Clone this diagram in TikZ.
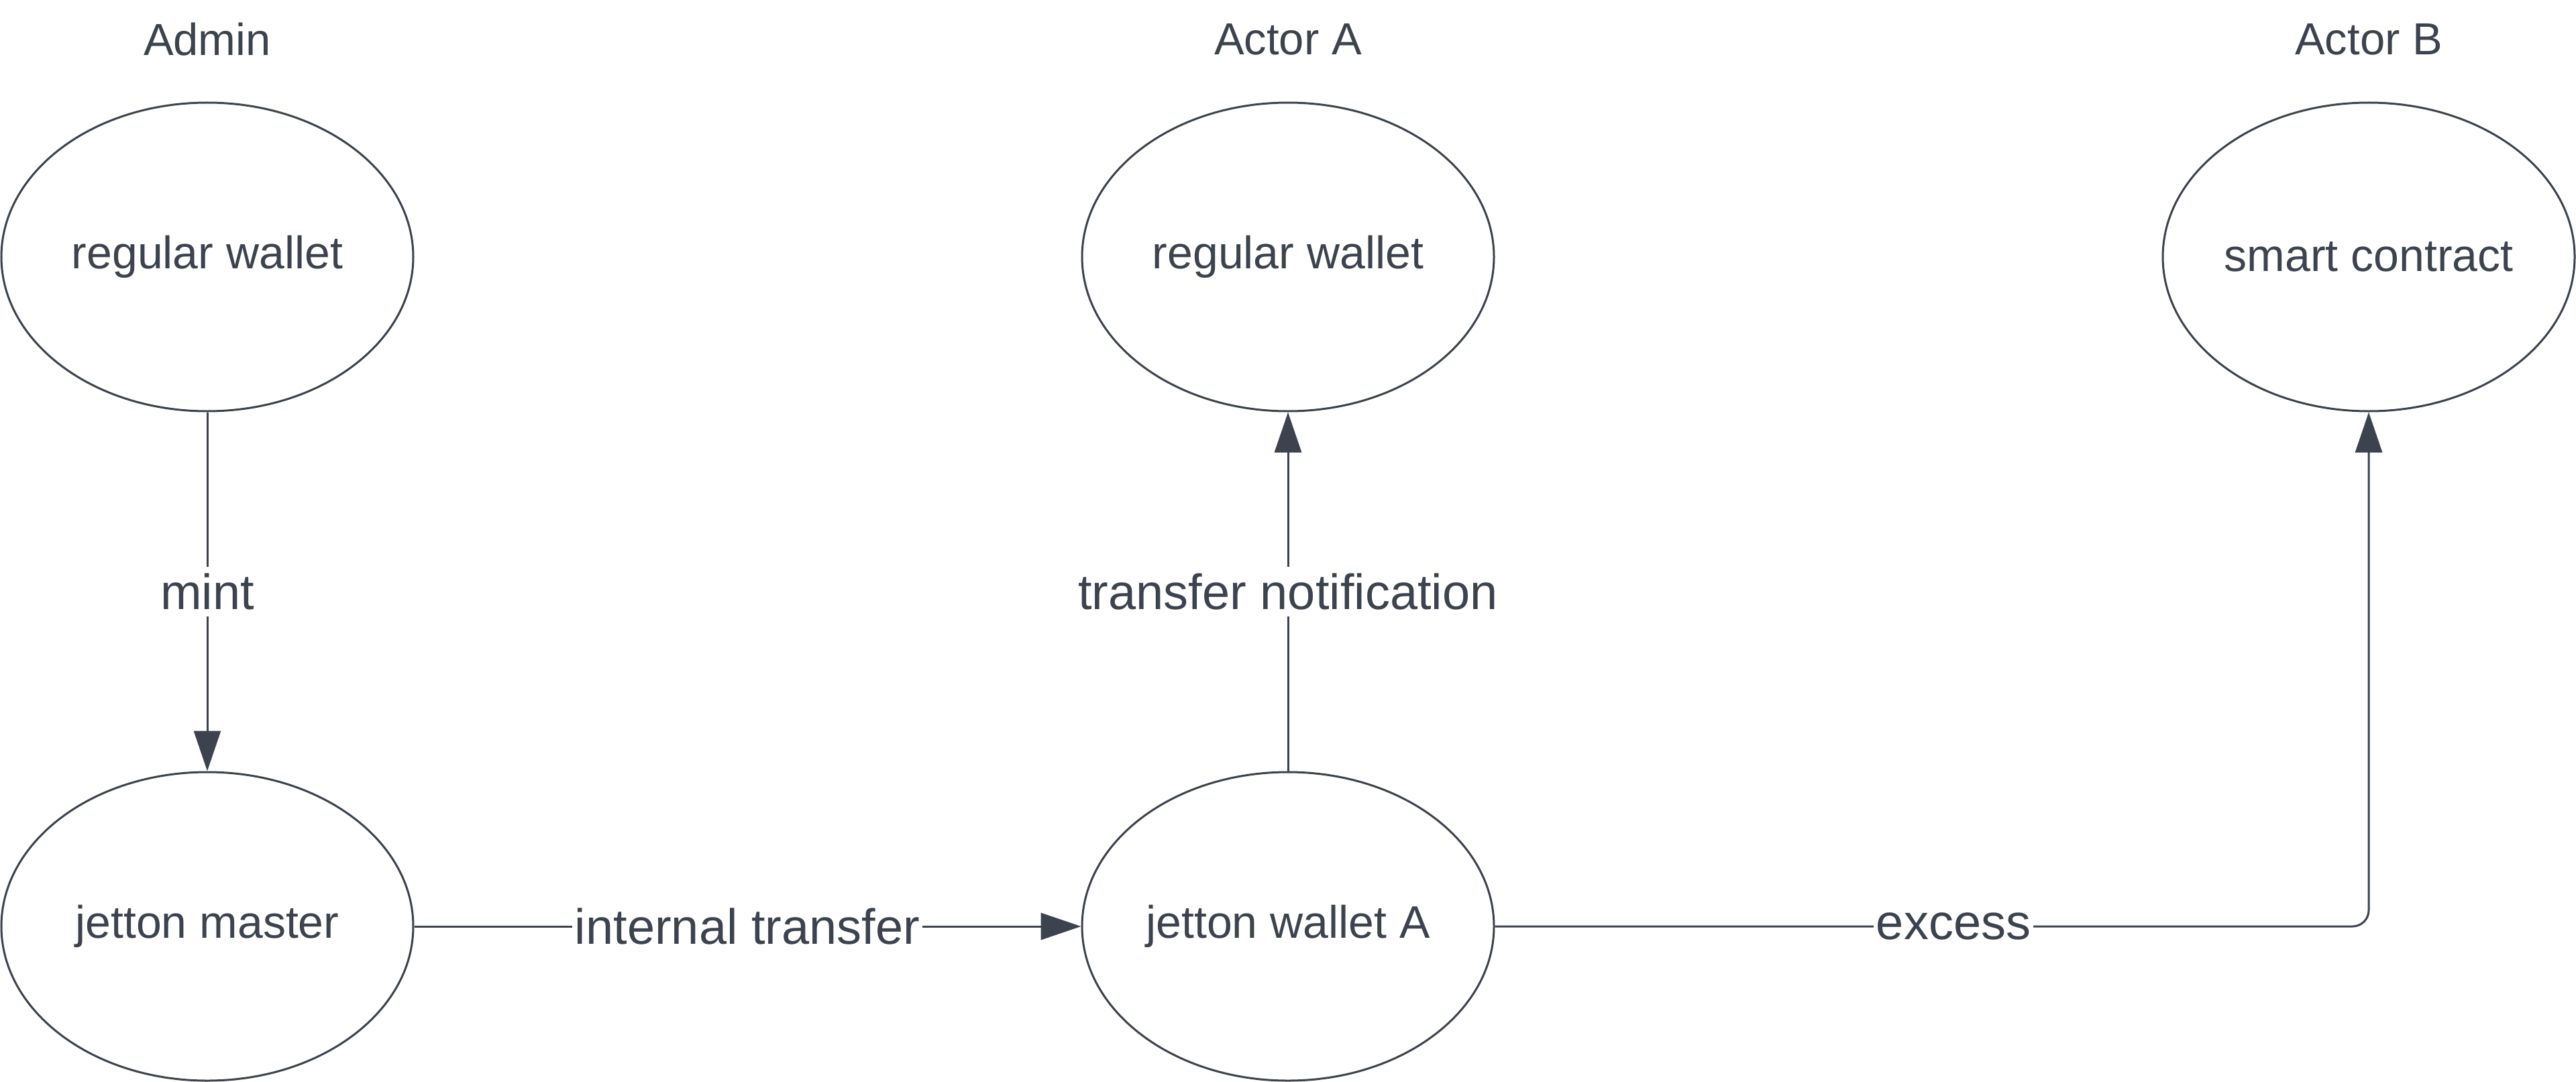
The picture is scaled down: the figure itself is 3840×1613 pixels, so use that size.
\documentclass[tikz,border=0pt]{standalone}
\usepackage{fontspec}
\setmainfont{Liberation Sans}
\usetikzlibrary{shapes.geometric,arrows.meta}
\definecolor{ink}{HTML}{3C434E}
\begin{document}
\begin{tikzpicture}[x=1pt,y=-1pt,
  actor/.style={ellipse,draw=ink,line width=3pt,minimum width=614pt,minimum height=460pt,inner sep=0pt,
     text=ink,font=\fontsize{68}{80}\selectfont},
  title/.style={text=ink,font=\fontsize{67}{80}\selectfont,inner sep=0pt},
  lbl/.style={fill=white,text=ink,font=\fontsize{74}{88}\selectfont,inner sep=10pt},
  conn/.style={draw=ink,line width=3pt,-{Triangle[length=60pt,width=40pt]}}]
\useasboundingbox[fill=white] (0,0) rectangle (3840,1613);
% titles
\node[title] (tadmin) at (309,59) {Admin};
\node[title] (tA) at (1920,59) {Actor A};
\node[title] (tB) at (3531,59) {Actor B};
% actors
\node[actor] (rw1) at (309,383) {regular wallet};
\node[actor] (jm) at (309,1381) {jetton master};
\node[actor] (rw2) at (1920,383) {regular wallet};
\node[actor] (jwa) at (1920,1381) {jetton wallet A};
\node[actor] (sc) at (3531,383) {smart contract};
% connectors
\draw[conn] (rw1.south) -- (jm.north);
\draw[conn] (jm.east) -- (jwa.west);
\draw[conn] (jwa.north) -- (rw2.south);
\draw[conn,rounded corners=24pt] (jwa.east) -| (sc.south);
% labels
\node[lbl] (lmint) at (309,882) {mint};
\node[lbl] (ltn) at (1920,882) {transfer notification};
\node[lbl,inner xsep=4pt] (lit) at (1114,1381) {internal transfer};
\node[lbl,inner xsep=4pt] (lex) at (2912,1381) {excess};
\end{tikzpicture}
\end{document}
